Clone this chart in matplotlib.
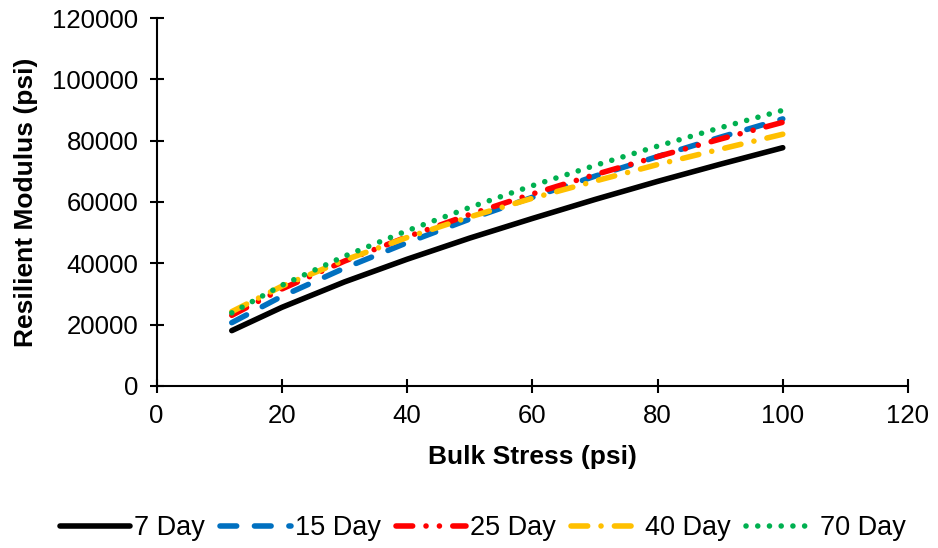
import matplotlib.pyplot as plt

plt.rcParams['font.family'] = ['Liberation Sans', 'DejaVu Sans']

# Bulk stress (psi) and resilient modulus (psi)
bulk_stress = [12, 20, 30, 40, 50, 60, 70, 80, 90, 100]
mr_7day = [18000, 25600, 33900, 41300, 48200, 54600, 60800, 66700, 72300, 77700]
mr_15day = [20600, 29200, 38400, 46700, 54400, 61500, 68400, 74800, 81100, 87100]
mr_25day = [23000, 31600, 40700, 48600, 55900, 62600, 68900, 74800, 80500, 86000]
mr_40day = [24200, 32500, 41000, 48400, 55100, 61200, 66800, 72200, 77200, 82100]
mr_70day = [23800, 32800, 42300, 50600, 58200, 65300, 71900, 78200, 84200, 89900]

labels = ["7 Day", "15 Day", "25 Day", "40 Day", "70 Day"]

fig = plt.figure(figsize=(9.38, 5.48), dpi=100)
ax = fig.add_axes([0.167, 0.296, 0.801, 0.671])

lw = 4.0
ax.plot(bulk_stress, mr_7day, color="black", lw=lw, solid_capstyle="round", label=labels[0])
ax.plot(bulk_stress, mr_15day, color="#0070C0", lw=lw, dash_capstyle="round",
        dashes=(3, 3.2), label=labels[1])
ax.plot(bulk_stress, mr_25day, color="#FF0000", lw=lw, dash_capstyle="round",
        dashes=(3, 2.4, 0.01, 2.4, 0.01, 2.4), label=labels[2])
ax.plot(bulk_stress, mr_40day, color="#FFC000", lw=lw, dash_capstyle="round",
        dashes=(3, 2.4, 0.01, 2.4), label=labels[3])
ax.plot(bulk_stress, mr_70day, color="#00B050", lw=lw, dash_capstyle="round",
        dashes=(0.01, 2.1), label=labels[4])

ax.set_xlim(0, 120)
ax.set_ylim(0, 120000)
ax.set_xticks(range(0, 121, 20))
ax.set_yticks(range(0, 120001, 20000))
ax.spines["top"].set_visible(False)
ax.spines["right"].set_visible(False)
ax.spines["left"].set_linewidth(1.5)
ax.spines["bottom"].set_linewidth(1.5)
ax.tick_params(direction="inout", length=10, width=1.5, labelsize=18.5, pad=8)

ax.set_xlabel("Bulk Stress (psi)", fontsize=19, fontweight="bold", labelpad=12)
ax.set_ylabel("Resilient Modulus (psi)", fontsize=19, fontweight="bold", labelpad=10)

fig.legend(loc="center", bbox_to_anchor=(0.515, 0.036), ncol=5, frameon=False,
           fontsize=19.5, handlelength=2.6, handletextpad=0.15, columnspacing=0.55)

fig.savefig("out.png", dpi=100)
